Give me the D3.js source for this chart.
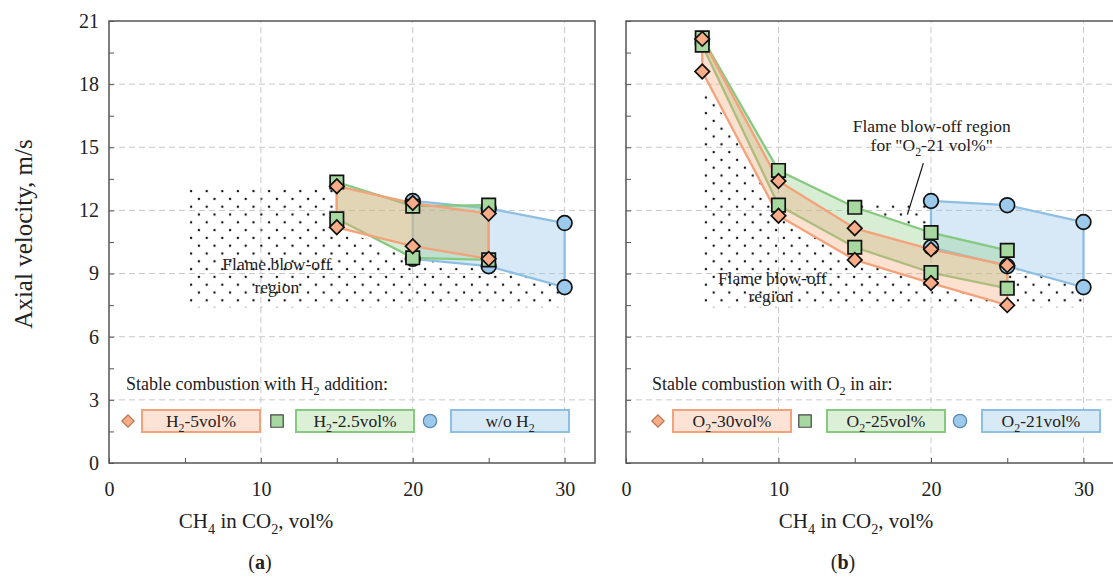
<!DOCTYPE html>
<html>
<head>
<meta charset="utf-8">
<script src="https://cdn.jsdelivr.net/npm/d3@7"></script>
<style>
body { margin: 0; background: #fff; }
svg { font-family: "Liberation Serif", "Times New Roman", serif; }
</style>
</head>
<body>
<svg id="chart" width="1113" height="579"></svg>
<script>
// ---- data ----
var xTickValues = [0, 5, 10, 15, 20, 25, 30];
var yTickValues = d3.range(0, 21.01, 1.5);

// panel (a): CH4 in CO2 with H2 addition
var aX = [15, 20, 25];
var aH2_5_hi = [13.15, 12.35, 11.85];
var aH2_5_lo = [11.2, 10.3, 9.7];
var aH2_25_hi = [13.35, 12.2, 12.25];
var aH2_25_lo = [11.6, 9.75, 9.65];
var aNoH2_x = [20, 25, 30];
var aNoH2_hi = [12.45, 12.1, 11.4];
var aNoH2_lo = [9.7, 9.35, 8.35];
var aBlowX = [5.3, 15, 15, 20, 25, 30, 30, 5.3];
var aBlowY = [13.1, 13.1, 11.2, 9.7, 9.35, 8.35, 7.4, 7.4];

// panel (b): CH4 in CO2 with O2-enriched air
var bX = [5, 10, 15, 20, 25];
var bO2_30_hi = [20.15, 13.4, 11.15, 10.15, 9.4];
var bO2_30_lo = [18.6, 11.75, 9.65, 8.55, 7.5];
var bO2_25_hi = [20.2, 13.9, 12.15, 10.95, 10.1];
var bO2_25_lo = [19.85, 12.25, 10.25, 9.05, 8.3];
var bO2_21_x = [20, 25, 30];
var bO2_21_hi = [12.45, 12.25, 11.45];
var bO2_21_lo = [10.25, 9.35, 8.35];
var bBlowX = [5, 10, 15, 15, 20, 20, 25, 30, 30, 5];
var bBlowY = [18.3, 11.7, 12.1, 12.4, 12.4, 10.25, 9.35, 8.35, 7.4, 7.4];

var legendA = ["H_2-5vol%", "H_2-2.5vol%", "w/o H_2"];
var legendB = ["O_2-30vol%", "O_2-25vol%", "O_2-21vol%"];

var ORANGE = { line: "#f4a27c", fill: "#f8a97e", mark: "#f8ad88", legFill: "#fde3d5" };
var GREEN  = { line: "#86c97f", fill: "#8fd08a", mark: "#a6d89f", legFill: "#dcf0d8" };
var BLUE   = { line: "#8dbfe4", fill: "#8fc3ea", mark: "#9ccaec", legFill: "#d9eaf7" };

var svg = d3.select("#chart");
var defs = svg.append("defs");
var pat = defs.append("pattern").attr("id", "dots")
    .attr("patternUnits", "userSpaceOnUse").attr("width", 15.6).attr("height", 15.6);
pat.append("circle").attr("cx", 3.9).attr("cy", 3.9).attr("r", 1.2).attr("fill", "#111");
pat.append("circle").attr("cx", 11.7).attr("cy", 11.7).attr("r", 1.2).attr("fill", "#111");

// writes "H_2" style strings with subscripts
function richText(sel, str, fs) {
    var parts = str.split(/_(\d)/);
    var shift = 0;
    parts.forEach(function(p, i) {
        if (p === "") return;
        var t = sel.append("tspan").text(p);
        if (i % 2 === 1) {
            t.attr("font-size", fs * 0.68).attr("dy", fs * 0.28);
            shift = fs * 0.28;
        } else if (shift) {
            t.attr("dy", -shift);
            shift = 0;
        }
    });
}

function drawPanel(cfg) {
    var x = d3.scaleLinear().domain([0, 32]).range([cfg.left, cfg.right]);
    var y = d3.scaleLinear().domain([0, 21]).range([463, 21]);
    var g = svg.append("g");

    var poly = function(xs, hi, lo) {
        var pts = xs.map(function(v, i) { return [v, hi[i]]; })
            .concat(xs.map(function(v, i) { return [v, lo[i]]; }).reverse());
        return d3.line().x(function(d) { return x(d[0]); }).y(function(d) { return y(d[1]); })(pts) + "Z";
    };

    // blow-off hatch
    var blowPts = cfg.blowX.map(function(v, i) { return [v, cfg.blowY[i]]; });
    g.append("path")
        .attr("d", d3.line().x(function(d) { return x(d[0]); }).y(function(d) { return y(d[1]); })(blowPts) + "Z")
        .attr("fill", "url(#dots)");

    // white under the stable regions (hides dots)
    cfg.series.forEach(function(s) {
        g.append("path").attr("d", poly(s.x, s.hi, s.lo)).attr("fill", "#fff");
    });

    // grid
    g.selectAll(".vg").data([10, 20, 30]).enter().append("line")
        .attr("x1", function(d) { return x(d); }).attr("x2", function(d) { return x(d); })
        .attr("y1", y(0)).attr("y2", y(21))
        .attr("stroke", "#c8c8c8").attr("stroke-dasharray", "6,4");
    g.selectAll(".hg").data([3, 6, 9, 12, 15, 18]).enter().append("line")
        .attr("x1", x(0)).attr("x2", x(32))
        .attr("y1", function(d) { return y(d); }).attr("y2", function(d) { return y(d); })
        .attr("stroke", "#c8c8c8").attr("stroke-dasharray", "6,4");

    // stable regions
    cfg.series.forEach(function(s) {
        g.append("path").attr("d", poly(s.x, s.hi, s.lo))
            .attr("fill", s.c.fill).attr("fill-opacity", 0.36)
            .attr("stroke", s.c.line).attr("stroke-width", 2.3).attr("stroke-linejoin", "round");
    });

    // markers
    cfg.series.forEach(function(s) {
        var pts = s.x.map(function(v, i) { return [v, s.hi[i]]; })
            .concat(s.x.map(function(v, i) { return [v, s.lo[i]]; }));
        var sym = d3.symbol().type(s.shape === "circle" ? d3.symbolCircle : d3.symbolSquare)
            .size(s.shape === "circle" ? 170 : (s.shape === "square" ? 180 : 105));
        g.selectAll(null).data(pts).enter().append("path")
            .attr("d", sym)
            .attr("transform", function(d) {
                return "translate(" + x(d[0]) + "," + y(d[1]) + ")" + (s.shape === "diamond" ? " rotate(45)" : "");
            })
            .attr("fill", s.c.mark).attr("stroke", "#111").attr("stroke-width", 1.7);
    });

    // axes (ticks inward)
    var ya = d3.axisLeft(y).tickValues(yTickValues).tickSizeInner(-5).tickSizeOuter(0).tickPadding(10)
        .tickFormat(function(d) { return (cfg.yLabels && d % 3 === 0) ? d : ""; });
    var xa = d3.axisBottom(x).tickValues(xTickValues).tickSizeInner(-5).tickSizeOuter(0).tickPadding(19)
        .tickFormat(function(d) { return d % 10 === 0 ? d : ""; });
    var yg = g.append("g").attr("transform", "translate(" + x(0) + ",0)").call(ya);
    var xg = g.append("g").attr("transform", "translate(0," + y(0) + ")").call(xa);
    [yg, xg].forEach(function(a) {
        a.select(".domain").remove();
        a.selectAll("line").attr("stroke", "#555");
        a.selectAll("text").attr("font-size", 20).attr("fill", "#222")
            .style("font-family", "Liberation Serif, serif");
    });

    // frame
    g.append("rect").attr("x", x(0)).attr("y", y(21))
        .attr("width", x(32) - x(0)).attr("height", y(0) - y(21))
        .attr("fill", "none").attr("stroke", "#555").attr("stroke-width", 1.5);

    // annotations
    cfg.notes.forEach(function(n) {
        var t = g.append("text").attr("x", x(n.x)).attr("y", y(n.y))
            .attr("text-anchor", "middle").attr("font-size", 17.5).attr("fill", "#222");
        richText(t, n.text, 17.5);
    });
    if (cfg.pointer) {
        g.append("line")
            .attr("x1", x(cfg.pointer[0])).attr("y1", y(cfg.pointer[1]))
            .attr("x2", x(cfg.pointer[2])).attr("y2", y(cfg.pointer[3]))
            .attr("stroke", "#111").attr("stroke-width", 1.2);
    }

    // legend
    var lt = g.append("text").attr("x", cfg.legTitleX).attr("y", 390)
        .attr("font-size", 18).attr("fill", "#222");
    richText(lt, cfg.legTitle, 18);
    cfg.series.slice().reverse().forEach(function(s, i) {
        var mx = cfg.legMarkX[i], bx = cfg.legBoxX[i];
        var sym = d3.symbol().type(s.shape === "circle" ? d3.symbolCircle : d3.symbolSquare)
            .size(s.shape === "circle" ? 140 : (s.shape === "square" ? 155 : 76));
        g.append("path").attr("d", sym)
            .attr("transform", "translate(" + mx + ",421)" + (s.shape === "diamond" ? " rotate(45)" : ""))
            .attr("fill", s.c.mark)
            .attr("stroke", s.shape === "diamond" ? "#b8764f" : (s.shape === "square" ? "#444" : "#5b86ad"))
            .attr("stroke-width", 1.2);
        g.append("rect").attr("x", bx).attr("y", 410).attr("width", 118).attr("height", 22)
            .attr("fill", s.c.legFill).attr("stroke", s.c.line).attr("stroke-width", 2);
        var tt = g.append("text").attr("x", bx + 59).attr("y", 427)
            .attr("text-anchor", "middle").attr("font-size", 17.5).attr("fill", "#222");
        richText(tt, cfg.legend[i], 17.5);
    });

    // axis title and panel tag
    var xt = svg.append("text").attr("x", cfg.xTitleX).attr("y", 528)
        .attr("text-anchor", "middle").attr("font-size", 21).attr("fill", "#222");
    richText(xt, "CH_4 in CO_2, vol%", 21);
    var tag = svg.append("text").attr("x", cfg.tagX).attr("y", 569)
        .attr("text-anchor", "middle").attr("font-size", 20).attr("fill", "#222");
    tag.append("tspan").text("(");
    tag.append("tspan").attr("font-weight", "bold").text(cfg.tag);
    tag.append("tspan").text(")");
}

drawPanel({
    left: 109, right: 595, yLabels: true,
    series: [
        { x: aNoH2_x, hi: aNoH2_hi, lo: aNoH2_lo, c: BLUE, shape: "circle" },
        { x: aX, hi: aH2_25_hi, lo: aH2_25_lo, c: GREEN, shape: "square" },
        { x: aX, hi: aH2_5_hi, lo: aH2_5_lo, c: ORANGE, shape: "diamond" }
    ],
    blowX: aBlowX, blowY: aBlowY,
    notes: [{ x: 11.05, y: 9.15, text: "Flame blow-off" }, { x: 11.05, y: 8.1, text: "region" }],
    legTitle: "Stable combustion with H_2 addition:", legTitleX: 126,
    legend: legendA, legMarkX: [128, 277, 430], legBoxX: [142, 296, 451],
    xTitleX: 256, tagX: 260, tag: "a"
});

drawPanel({
    left: 626, right: 1114, yLabels: false,
    series: [
        { x: bO2_21_x, hi: bO2_21_hi, lo: bO2_21_lo, c: BLUE, shape: "circle" },
        { x: bX, hi: bO2_25_hi, lo: bO2_25_lo, c: GREEN, shape: "square" },
        { x: bX, hi: bO2_30_hi, lo: bO2_30_lo, c: ORANGE, shape: "diamond" }
    ],
    blowX: bBlowX, blowY: bBlowY,
    notes: [
        { x: 9.6, y: 8.5, text: "Flame blow-off" }, { x: 9.5, y: 7.65, text: "region" },
        { x: 20.05, y: 15.75, text: "Flame blow-off region" },
        { x: 20.05, y: 14.8, text: "for \"O_2-21 vol%\"" }
    ],
    pointer: [19.5, 14.25, 18.45, 11.8],
    legTitle: "Stable combustion with O_2 in air:", legTitleX: 652,
    legend: legendB, legMarkX: [658, 805, 960], legBoxX: [673, 827, 982],
    xTitleX: 856, tagX: 843, tag: "b"
});

// y axis title
var yt = svg.append("text").attr("transform", "translate(32,234) rotate(-90)")
    .attr("text-anchor", "middle").attr("font-size", 25).attr("fill", "#222");
yt.text("Axial velocity, m/s");
</script>
</body>
</html>
